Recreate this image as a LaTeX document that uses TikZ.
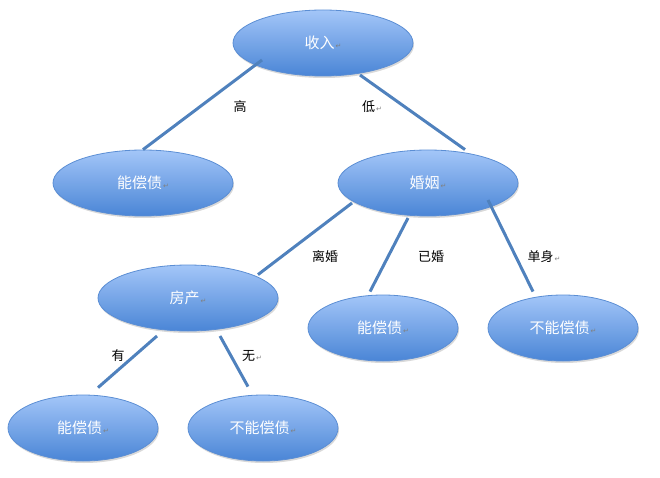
\documentclass[tikz,border=0pt]{standalone}
\usepackage{fontspec}
\newfontfamily\cjk{Noto Sans CJK SC}
\newfontfamily\symf{DejaVu Sans}
\usetikzlibrary{shapes.geometric,shadows}
\definecolor{lineblue}{HTML}{4F81BD}
\definecolor{topblue}{HTML}{A3C6F8}
\definecolor{botblue}{HTML}{4A85D6}
\definecolor{edgeblue}{HTML}{5B8ED4}
\newcommand{\pmark}{{\color{gray}\symf\fontsize{7}{7}\selectfont\kern1pt↵}}
\begin{document}
\begin{tikzpicture}[x=1pt,y=-1pt,
  leaf/.style={ellipse,draw=edgeblue,line width=0.8pt,top color=topblue,bottom color=botblue,
    text=white,font=\cjk\fontsize{15}{15}\selectfont,inner sep=0pt,
    drop shadow={shadow xshift=1pt,shadow yshift=-2pt,opacity=0.3}},
  big/.style={leaf,minimum width=180pt,minimum height=66pt},
  small/.style={leaf,minimum width=150pt,minimum height=66pt},
  conn/.style={draw=lineblue,line width=3pt},
  lab/.style={font=\cjk\fontsize{13}{13}\selectfont,text=black,inner sep=1pt}]
\useasboundingbox (0,0) rectangle (660,478);
\node[big] (root) at (323,43) {收入\pmark};
\node[big] (l1) at (143,183) {能偿债\pmark};
\node[big] (mar) at (428,183) {婚姻\pmark};
\node[big] (house) at (188,298) {房产\pmark};
\node[small] (m2) at (383,328) {能偿债\pmark};
\node[small] (r2) at (563,328) {不能偿债\pmark};
\node[small] (b1) at (83,428) {能偿债\pmark};
\node[small] (b2) at (263,428) {不能偿债\pmark};
\coordinate (rA) at (262,60);
\coordinate (rB) at (360,75);
\coordinate (mA) at (352,203);
\coordinate (mB) at (408,218);
\coordinate (mC) at (488,200);
\coordinate (hA) at (157,336);
\coordinate (hB) at (220,336);
\draw[conn] (rA) -- (l1.north);
\draw[conn] (rB) -- ([xshift=37pt]mar.north);
\draw[conn] (mA) -- ([xshift=70pt,yshift=-10pt]house.north);
\draw[conn] (mB) -- ([xshift=-13pt,yshift=3pt]m2.north);
\draw[conn] (mC) -- ([xshift=-30pt,yshift=3pt]r2.north);
\draw[conn] (hA) -- ([xshift=15pt,yshift=7pt]b1.north);
\draw[conn] (hB) -- ([xshift=-15pt,yshift=8pt]b2.north);
\node[lab] (t1) at (240,107) {高};
\node[lab] (t2) at (372,107) {低\pmark};
\node[lab] (t3) at (325,257) {离婚};
\node[lab] (t4) at (431,257) {已婚};
\node[lab] (t5) at (544,257) {单身\pmark};
\node[lab] (t6) at (118,356) {有};
\node[lab] (t7) at (252,356) {无\pmark};
\end{tikzpicture}
\end{document}
